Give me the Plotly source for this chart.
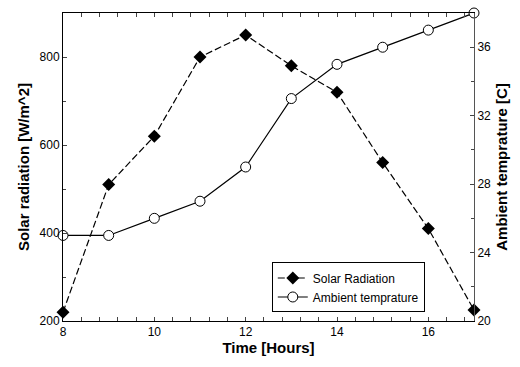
import plotly.graph_objects as go

hours = [8, 9, 10, 11, 12, 13, 14, 15, 16, 17]
solar = [220, 510, 620, 800, 850, 780, 720, 560, 410, 225]
ambient = [25, 25, 26, 27, 29, 33, 35, 36, 37, 38]

fig = go.Figure()
fig.add_trace(go.Scatter(
    x=hours, y=solar, name="Solar Radiation", mode="lines+markers",
    line=dict(color="black", width=1.2, dash="7px,3px"),
    marker=dict(symbol="diamond", size=10, color="black"),
    cliponaxis=False, yaxis="y"))
fig.add_trace(go.Scatter(
    x=hours, y=ambient, name="Ambient temprature", mode="lines+markers",
    line=dict(color="black", width=1.2),
    marker=dict(symbol="circle", size=10, color="white", line=dict(color="black", width=1)),
    cliponaxis=False, yaxis="y2"))

font = dict(family="Liberation Sans, Arial, sans-serif", size=12, color="black")
fig.update_layout(
    width=520, height=367,
    margin=dict(l=63, r=44, t=13, b=46),
    paper_bgcolor="white", plot_bgcolor="white",
    font=font,
    showlegend=True,
    legend=dict(x=0.508, y=0.19, xanchor="left", yanchor="top",
                bordercolor="black", borderwidth=1, bgcolor="white",
                font=dict(family="Liberation Sans, Arial, sans-serif", size=12, color="black"),
                tracegroupgap=0, itemwidth=30),
    xaxis=dict(range=[8, 17], tickvals=[8, 10, 12, 14, 16], ticks="inside", ticklen=4,
               showline=True, linecolor="black", linewidth=1, mirror="allticks",
               showgrid=False, zeroline=False,
               minor=dict(dtick=0.4, tick0=8, ticks="inside", ticklen=3, showgrid=False),
               title=dict(text="<b>Time [Hours]</b>", font=dict(size=15), standoff=4)),
    yaxis=dict(range=[200, 900], tickvals=[200, 400, 600, 800], ticks="inside", ticklen=4,
               showline=True, linecolor="black", linewidth=1,
               showgrid=False, zeroline=False,
               minor=dict(dtick=100, tick0=200, ticks="inside", ticklen=3, showgrid=False),
               title=dict(text="<b>Solar radiation [W/m^2]</b>", font=dict(size=15), standoff=6)),
    yaxis2=dict(range=[20, 38], tickvals=[20, 24, 28, 32, 36], ticks="inside", ticklen=4,
                overlaying="y", side="right",
                showline=True, linecolor="#555555", linewidth=1,
                showgrid=False, zeroline=False,
                minor=dict(dtick=2, tick0=20, ticks="inside", ticklen=3, showgrid=False),
                title=dict(text="<b>Ambient temprature [C]</b>", font=dict(size=15), standoff=6)),
)
fig.write_html("out.html")
